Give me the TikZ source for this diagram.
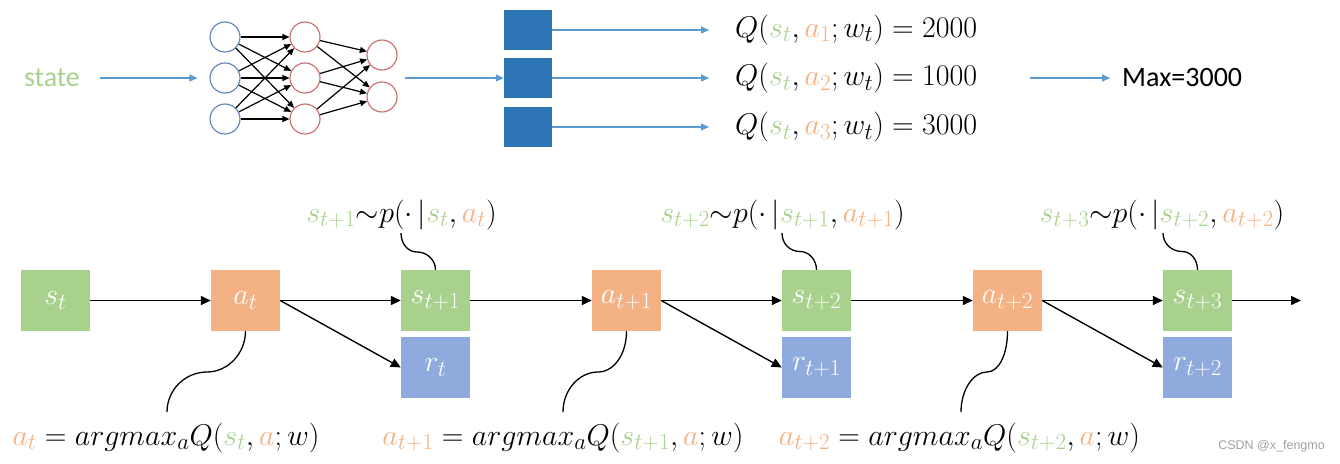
\RequirePackage{fix-cm}
\documentclass[tikz,border=0pt]{standalone}
\usepackage{fontspec}
\newfontfamily\carlito{Carlito}
\newfontfamily\wmfont{Liberation Sans}
\usetikzlibrary{arrows.meta}
\DeclareMathSizes{30}{30}{23}{18}
\definecolor{sgreen}{HTML}{A9D18E}
\definecolor{aorange}{HTML}{F4B183}
\definecolor{rblue}{HTML}{8FAADC}
\definecolor{qblue}{HTML}{2E75B6}
\definecolor{lblue}{HTML}{5B9BD5}
\definecolor{inblue}{HTML}{5B80B8}
\definecolor{hred}{HTML}{C0504D}
\newcommand\grn[1]{\textcolor{sgreen}{#1}}
\newcommand\orn[1]{\textcolor{aorange}{#1}}
\newcommand\msize{\fontsize{30}{36}\selectfont}
\tikzset{
 box/.style={minimum width=69pt, minimum height=61pt, inner sep=0, text=white, font=\msize},
 sbox/.style={box, fill=sgreen},
 abox/.style={box, fill=aorange},
 rbox/.style={box, fill=rblue},
 qbox/.style={fill=qblue, minimum width=48pt, minimum height=40pt, inner sep=0},
 arr/.style={line width=1.4pt, -{Triangle[length=10pt,width=9pt]}},
 barr/.style={lblue, line width=1.3pt, -{Triangle[length=8pt,width=7pt]}},
 nnarr/.style={line width=1.2pt, -{Triangle[length=7pt,width=6pt]}},
 neuron/.style={circle, draw, line width=1.1pt, minimum size=30pt, inner sep=0},
 lab/.style={inner sep=0, font=\msize},
 sanslab/.style={inner sep=0, font=\carlito\fontsize{28}{34}\selectfont},
 curl/.style={line width=1.3pt},
}
\begin{document}
\begin{tikzpicture}[x=1pt,y=-1pt]
\useasboundingbox (0,0) rectangle (1340,463);
% ---- top row ----
\node[sanslab, text=sgreen] (state) at (52,78) {state};
\node[neuron, draw=inblue] (i1) at (225,37) {};
\node[neuron, draw=inblue] (i2) at (225,78) {};
\node[neuron, draw=inblue] (i3) at (225,119) {};
\node[neuron, draw=hred!85] (h1) at (305,37) {};
\node[neuron, draw=hred!85] (h2) at (305,78) {};
\node[neuron, draw=hred!85] (h3) at (305,119) {};
\node[neuron, draw=hred!85] (o1) at (382,55) {};
\node[neuron, draw=hred!85] (o2) at (382,97) {};
\foreach \i in {1,2,3}{\foreach \j in {1,2,3}{\draw[nnarr] (i\i) -- (h\j);}}
\foreach \i in {1,2,3}{\foreach \j in {1,2}{\draw[nnarr] (h\i) -- (o\j);}}
\draw[barr, shorten <=20pt, shorten >=12pt] (state.east) -- (i2.west);
\coordinate (nnout) at (405,78);
\node[qbox] (b1) at (528,30) {};
\node[qbox] (b2) at (528,78) {};
\node[qbox] (b3) at (528,127) {};
\draw[barr] (nnout) -- (b2.west);
\node[lab, anchor=west] (q1) at (735,30) {$Q(\grn{s_t},\orn{a_1};w_t)=2000$};
\node[lab, anchor=west] (q2) at (735,78) {$Q(\grn{s_t},\orn{a_2};w_t)=1000$};
\node[lab, anchor=west] (q3) at (735,127) {$Q(\grn{s_t},\orn{a_3};w_t)=3000$};
\draw[barr, shorten >=26pt] (b1.east) -- (q1.west);
\draw[barr, shorten >=26pt] (b2.east) -- (q2.west);
\draw[barr, shorten >=26pt] (b3.east) -- (q3.west);
\coordinate (mx) at (1030,78);
\node[sanslab, anchor=west] (max) at (1122,78) {Max=3000};
\draw[barr, shorten >=12pt] (mx) -- (max.west);
% ---- bottom row ----
\node[sbox] (st)  at (55.5,300.5)   {$s_t$};
\node[abox] (at)  at (245.5,300.5)  {$a_t$};
\node[sbox] (st1) at (435.5,300.5)  {$s_{t+1}$};
\node[rbox] (rt)  at (435.5,367.5)  {$r_t$};
\node[abox] (at1) at (626.5,300.5)  {$a_{t+1}$};
\node[sbox] (st2) at (816.5,300.5)  {$s_{t+2}$};
\node[rbox] (rt1) at (816.5,367.5)  {$r_{t+1}$};
\node[abox] (at2) at (1007.5,300.5) {$a_{t+2}$};
\node[sbox] (st3) at (1197.5,300.5) {$s_{t+3}$};
\node[rbox] (rt2) at (1197.5,367.5) {$r_{t+2}$};
\coordinate (end) at (1301,300.5);
\draw[arr] (st.east) -- (at.west);
\draw[arr] (at.east) -- (st1.west);
\draw[arr] (at.east) -- (rt.west);
\draw[arr] (st1.east) -- (at1.west);
\draw[arr] (at1.east) -- (st2.west);
\draw[arr] (at1.east) -- (rt1.west);
\draw[arr] (st2.east) -- (at2.west);
\draw[arr] (at2.east) -- (st3.west);
\draw[arr] (at2.east) -- (rt2.west);
\draw[arr] (st3.east) -- (end);
% top labels
\node[lab, anchor=base] (p1) at (401.5,222) {$\grn{s_{t+1}}{\sim}p(\cdot\,|\grn{s_t},\orn{a_t})$};
\node[lab, anchor=base] (p2) at (782.5,222) {$\grn{s_{t+2}}{\sim}p(\cdot\,|\grn{s_{t+1}},\orn{a_{t+1}})$};
\node[lab, anchor=base] (p3) at (1162,222) {$\grn{s_{t+3}}{\sim}p(\cdot\,|\grn{s_{t+2}},\orn{a_{t+2}})$};
% bottom labels
\node[lab, anchor=base] (l1) at (166,445) {$\orn{a_t}=argmax_aQ(\grn{s_t},\orn{a};w)$};
\node[lab, anchor=base] (l2) at (563,445) {$\orn{a_{t+1}}=argmax_aQ(\grn{s_{t+1}},\orn{a};w)$};
\node[lab, anchor=base] (l3) at (959.5,445) {$\orn{a_{t+2}}=argmax_aQ(\grn{s_{t+2}},\orn{a};w)$};
% curly connectors
\coordinate (pe1) at (401,233); \coordinate (pm1) at (417,252);
\coordinate (pe2) at (782,233); \coordinate (pm2) at (800,251.5);
\coordinate (pe3) at (1163,233); \coordinate (pm3) at (1182,251.5);
\draw[curl] (st1.north) .. controls +(0,-10) and +(10,0) .. (pm1) .. controls +(-9,0) and +(0,11) .. (pe1);
\draw[curl] (st2.north) .. controls +(0,-10) and +(9,0) .. (pm2) .. controls +(-10,0) and +(0,11) .. (pe2);
\draw[curl] (st3.north) .. controls +(0,-10) and +(9,0) .. (pm3) .. controls +(-10,0) and +(0,11) .. (pe3);
\coordinate (le1) at (167,412); \coordinate (lm1) at (207,372);
\coordinate (le2) at (563,412); \coordinate (lm2) at (598,372);
\coordinate (le3) at (961,412); \coordinate (lm3) at (987,372);
\draw[curl] (at.south) .. controls +(0,22) and +(21,0) .. (lm1) .. controls +(-22,0) and +(0,-22) .. (le1);
\draw[curl] (at1.south) .. controls +(0,23) and +(16,0) .. (lm2) .. controls +(-19,0) and +(0,-22) .. (le2);
\draw[curl] (at2.south) .. controls +(0,23) and +(12,0) .. (lm3) .. controls +(-14,0) and +(0,-22) .. (le3);
% watermark
\node[anchor=base east, inner sep=0, text=gray!75, font=\wmfont\fontsize{12.5}{15}\selectfont] (wm) at (1325,449) {CSDN @x\_fengmo};
\end{tikzpicture}
\end{document}
